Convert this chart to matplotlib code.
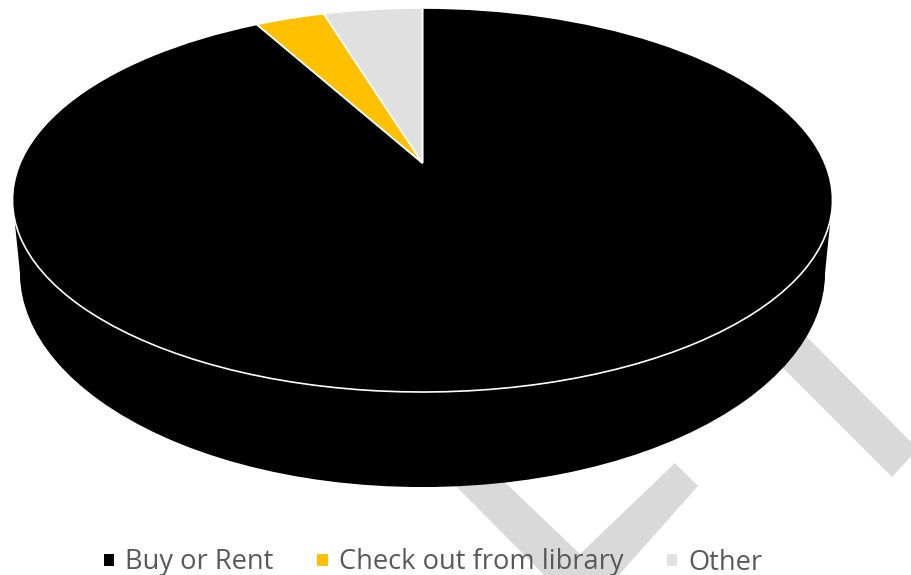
import numpy as np
import matplotlib
matplotlib.use("Agg")
import matplotlib.pyplot as plt
from matplotlib.patches import Circle, Polygon, Patch
from matplotlib.transforms import Transform

categories = ["Buy or Rent", "Check out from library", "Other"]
shares = [92.0, 3.3, 4.7]
colors = ["#000000", "#FFC000", "#E0E0E0"]
text_color = "#595959"
watermark = "#D9D9D9"


class DiscProjection(Transform):
    """Perspective view of the unit-circle pie, in pixel coordinates."""
    input_dims = 2
    output_dims = 2
    is_separable = False
    has_inverse = False

    def __init__(self, cx=422.5, a=402.3, q=163.0, p=-153.46, k=0.1927,
                 xscale=1.0, yscale=1.0, pivot=200.0, target=200.0):
        super().__init__()
        self.v = (cx, a, q, p, k, xscale, yscale, pivot, target)

    def transform_non_affine(self, values):
        cx, a, q, p, k, xs, ys, pivot, target = self.v
        values = np.asarray(values, float)
        x, y = values[:, 0], values[:, 1]
        d = 1 + k * y
        X = cx + xs * a * x / d
        Y = target + ys * ((p * y + q) / d - pivot)
        return np.column_stack([X, Y])


top = DiscProjection()
bottom = DiscProjection(xscale=0.982, yscale=1.12, target=272.0)

fig = plt.figure(figsize=(9.12, 5.75), dpi=100, facecolor="white")
ax = fig.add_axes([0, 0, 1, 1])

wedges, _ = ax.pie(shares, colors=colors, startangle=90, counterclock=False,
                   wedgeprops=dict(edgecolor="white", linewidth=1.2))
ax.set_aspect("auto")
ax.set_xlim(0, 912)
ax.set_ylim(575, 0)
ax.axis("off")
for w in wedges:
    w.set_transform(top + ax.transData)
    w.set_zorder(3)

# Diagonal watermark strokes behind the pie
ax.add_patch(Polygon([(440, 470), (545, 576), (618, 576), (698, 486), (675, 463),
                      (580, 554), (492, 470)], closed=True, fc=watermark, ec="none", zorder=0))
ax.add_patch(Polygon([(760, 345), (892, 477), (913, 454), (913, 444), (790, 320)],
                     closed=True, fc=watermark, ec="none", zorder=0))

# Pie depth: lower disc and the band joining it to the top disc
ax.add_patch(Circle((0, 0), 1, fc="black", ec="none", zorder=1,
                    transform=bottom + ax.transData))
k = top.v[4]
ext = np.array([[-np.sqrt(1 - k**2), -k], [np.sqrt(1 - k**2), -k]])
t_pts = top.transform(ext)
b_pts = bottom.transform(ext)
ax.add_patch(Polygon([t_pts[0], t_pts[1], b_pts[1], b_pts[0]], closed=True,
                     fc="black", ec="none", zorder=1))

handles = [Patch(fc=c, ec="none") for c in colors]
ax.legend(handles, categories, loc="lower left", bbox_to_anchor=(104 / 912, -1.5 / 575),
          ncol=3, frameon=False,
          prop=dict(family="Open Sans", size=19.65),
          labelcolor=text_color, handlelength=0.38, handleheight=0.3,
          handletextpad=0.40, columnspacing=1.6, borderpad=0, borderaxespad=0)

fig.savefig("out.png", dpi=100, facecolor="white")
